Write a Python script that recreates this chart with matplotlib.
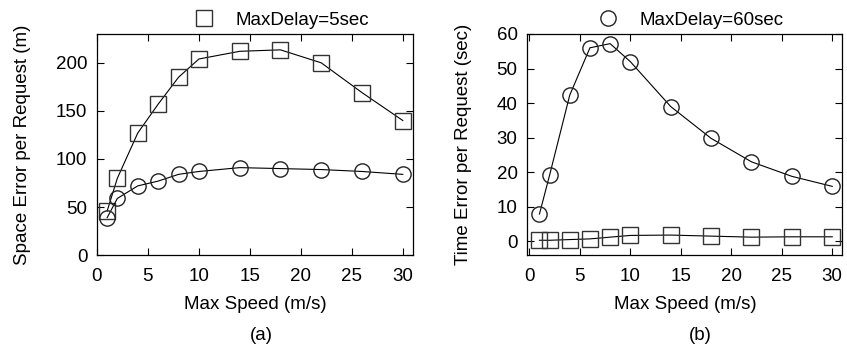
import matplotlib.pyplot as plt

plt.rcParams['font.family'] = ['Liberation Sans', 'DejaVu Sans']
plt.rcParams['font.size'] = 13.5

speed = [1, 2, 4, 6, 8, 10, 14, 18, 22, 26, 30]

# space error (m)
space_5 = [46, 80, 127, 157, 185, 204, 212, 213.5, 200, 169, 140]
space_60 = [39, 59, 72, 77, 84, 87, 91, 90, 89, 87, 84]

# time error (sec)
time_5 = [0.3, 0.3, 0.5, 0.7, 1.2, 1.7, 1.8, 1.5, 1.2, 1.3, 1.3]
time_60 = [7.9, 19.1, 42.3, 56, 57.2, 52, 39, 29.8, 23, 18.8, 15.9]

fig = plt.figure(figsize=(8.47, 3.49), dpi=100)
ax1 = fig.add_axes([0.1145, 0.269, 0.3731, 0.6336])
ax2 = fig.add_axes([0.6226, 0.269, 0.3719, 0.6336])

sq = dict(marker='s', markersize=11, markerfacecolor='none', markeredgecolor='#333333',
          markeredgewidth=1.0, color='black', linewidth=0.8)
ci = dict(marker='o', markersize=11, markerfacecolor='none', markeredgecolor='#222222',
          markeredgewidth=1.0, color='black', linewidth=0.8)

ax1.plot(speed, space_5, **sq)
ax1.plot(speed, space_60, **ci)
ax2.plot(speed, time_5, **sq)
ax2.plot(speed, time_60, **ci)

ax1.set_xlim(0, 31)
ax1.set_ylim(0, 230)
ax1.set_yticks([0, 50, 100, 150, 200])
ax2.set_xlim(-0.2, 31)
ax2.set_ylim(-4, 60)
ax2.set_yticks([0, 10, 20, 30, 40, 50, 60])

for ax in (ax1, ax2):
    ax.set_xticks([0, 5, 10, 15, 20, 25, 30])
    ax.tick_params(direction='in', top=True, right=True, length=5, width=0.8, labelsize=13.5)
    ax.tick_params(axis='x', pad=9.5)
    ax.tick_params(axis='y', pad=7)
    for s in ax.spines.values():
        s.set_linewidth(0.9)
    ax.set_xlabel('Max Speed (m/s)', fontsize=13.5, labelpad=7.5)

ax1.set_ylabel('Space Error per Request (m)', fontsize=13.5, labelpad=18)
ax2.set_ylabel('Time Error per Request (sec)', fontsize=13.5, labelpad=18)

fig.text(0.309, 0.04, '(a)', ha='center', va='center', fontsize=13.5)
fig.text(0.827, 0.04, '(b)', ha='center', va='center', fontsize=13.5)

ax1.legend([ax1.lines[0]], ['MaxDelay=5sec'], loc='lower center', bbox_to_anchor=(0.585, 0.99),
           frameon=False, fontsize=13.5, handlelength=1.0, handletextpad=1.2, numpoints=1,
           borderaxespad=0)
ax2.legend([ax2.lines[1]], ['MaxDelay=60sec'], loc='lower center', bbox_to_anchor=(0.52, 0.99),
           frameon=False, fontsize=13.5, handlelength=1.0, handletextpad=1.2, numpoints=1,
           borderaxespad=0)
for leg in (ax1.get_legend(), ax2.get_legend()):
    for h in leg.legend_handles:
        h.set_linestyle('none')

fig.savefig('out.png', dpi=100)
